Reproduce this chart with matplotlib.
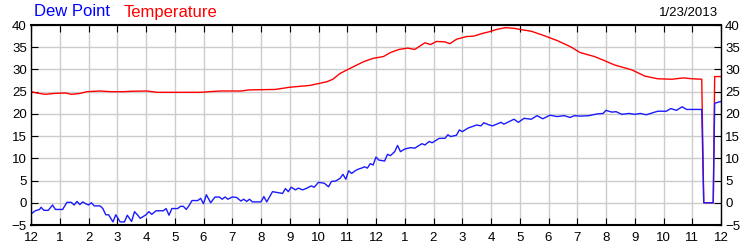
import numpy as np
import matplotlib
matplotlib.use('Agg')
import matplotlib.pyplot as plt

plt.rcParams['font.family'] = ['Liberation Sans', 'DejaVu Sans']

# hours since midnight
dew_hours = [0.0, 0.15, 0.3, 0.35, 0.45, 0.6, 0.75, 0.85, 1.1, 1.25, 1.4, 1.5, 1.6, 1.7, 1.8, 1.9,
             2.0, 2.1, 2.2, 2.4, 2.5, 2.6, 2.7, 2.85, 2.95, 3.1, 3.25, 3.35, 3.5, 3.6, 3.7, 3.8,
             4.0, 4.1, 4.2, 4.35, 4.6, 4.7, 4.8, 4.9, 5.1, 5.2, 5.3, 5.4, 5.5, 5.6, 5.8, 5.9,
             6.0, 6.1, 6.25, 6.4, 6.55, 6.65, 6.75, 6.85, 7.0, 7.15, 7.3, 7.4, 7.5, 7.6, 7.7,
             8.0, 8.1, 8.2, 8.4, 8.75, 8.85, 8.95, 9.05, 9.2, 9.3, 9.45, 9.6, 9.75, 9.85,
             10.0, 10.2, 10.35, 10.45, 10.6, 10.75, 10.85, 10.95, 11.05, 11.15, 11.3, 11.4,
             11.5, 11.6, 11.7, 11.8, 11.9, 12.0, 12.1, 12.3, 12.4, 12.5, 12.65, 12.75, 12.85,
             13.0, 13.2, 13.35, 13.6, 13.7, 13.85, 13.95, 14.2, 14.4, 14.5, 14.6, 14.8, 14.9,
             15.0, 15.2, 15.5, 15.65, 15.75, 15.9, 16.05, 16.35, 16.45, 16.8, 16.95, 17.15,
             17.4, 17.6, 17.8, 18.05, 18.3, 18.55, 18.75, 18.9, 19.1, 19.4, 19.7, 19.9, 20.0,
             20.2, 20.35, 20.55, 20.8, 21.0, 21.2, 21.4, 21.6, 21.8, 22.1, 22.25, 22.45, 22.65,
             22.8, 23.33, 23.4, 23.73, 23.78, 24.0]
dew_point = [-2.5, -1.8, -1.5, -1.0, -1.7, -1.7, -0.5, -1.5, -1.5, 0.1, 0.1, -0.5, 0.3, -0.4, 0.2, -0.2,
             -0.5, 0.0, -0.7, -0.7, -1.3, -2.7, -2.7, -4.3, -2.7, -4.3, -4.3, -2.8, -4.2, -2.0, -2.7, -3.5,
             -2.7, -2.0, -2.6, -1.8, -1.8, -1.3, -2.8, -1.3, -1.3, -0.8, -0.8, -1.5, -0.6, 0.5, 0.5, 1.0,
             -0.2, 1.8, 0.0, 1.3, 1.3, 0.8, 1.3, 0.8, 1.3, 1.2, 0.4, 0.8, 0.3, 0.8, 0.2,
             0.2, 1.4, 0.2, 2.5, 2.1, 3.2, 2.5, 3.5, 2.9, 3.3, 2.9, 3.3, 3.8, 3.5,
             4.6, 4.4, 3.6, 4.8, 4.9, 5.5, 6.4, 5.3, 7.2, 6.6, 7.3, 7.6,
             7.8, 8.1, 7.8, 8.8, 8.5, 10.3, 9.6, 9.4, 10.9, 10.6, 11.5, 12.9, 11.5,
             12.1, 12.4, 12.3, 13.3, 13.0, 13.8, 13.5, 14.5, 14.5, 15.3, 14.9, 15.2, 16.4,
             16.0, 16.8, 17.5, 17.3, 18.0, 17.6, 17.3, 18.1, 17.7, 18.8, 18.1, 19.0,
             18.8, 19.6, 18.9, 19.7, 19.4, 19.6, 19.2, 19.6, 19.5, 19.6, 20.0, 20.1, 20.8,
             20.4, 20.5, 19.9, 20.1, 19.9, 20.1, 19.8, 20.2, 20.6, 20.6, 21.2, 20.8, 21.6,
             21.0, 21.0, 0.0, 0.0, 22.4, 22.8]

temp_hours = [0.0, 0.2, 0.5, 0.8, 1.2, 1.4, 1.7, 1.95, 2.4, 2.75, 3.2, 3.56, 4.03, 4.4, 5.0, 5.9,
              6.2, 6.6, 7.3, 7.6, 8.5, 9.0, 9.7, 10.3, 10.5, 10.75, 11.1, 11.57, 11.9, 12.26,
              12.5, 12.8, 13.1, 13.35, 13.7, 13.9, 14.1, 14.4, 14.57, 14.8, 15.15, 15.4, 15.7,
              15.95, 16.2, 16.5, 16.8, 17.1, 17.4, 17.85, 18.3, 18.77, 19.1, 19.6, 19.94, 20.3,
              20.9, 21.35, 21.8, 22.3, 22.7, 23.0, 23.33, 23.4, 23.73, 23.78, 24.0]
temperature = [25.0, 24.7, 24.4, 24.6, 24.7, 24.4, 24.6, 25.0, 25.15, 25.0, 25.0, 25.1, 25.15, 24.85, 24.85, 24.85,
               25.0, 25.15, 25.15, 25.4, 25.5, 26.0, 26.4, 27.25, 27.8, 29.1, 30.25, 31.75, 32.5, 32.9,
               33.8, 34.5, 34.8, 34.5, 36.0, 35.6, 36.3, 36.2, 35.8, 36.8, 37.4, 37.5, 38.1,
               38.5, 39.0, 39.4, 39.25, 38.9, 38.6, 37.6, 36.5, 35.1, 33.8, 32.9, 32.0, 31.0,
               29.9, 28.5, 27.9, 27.8, 28.1, 27.9, 27.8, 0.0, 0.0, 28.4, 28.4]

hour_labels = ['12'] + [str(h) for h in range(1, 12)] + ['12'] + [str(h) for h in range(1, 12)] + ['12']
y_ticks = list(range(-5, 41, 5))

fig = plt.figure(figsize=(7.5, 2.5), dpi=100)
ax = fig.add_axes([31/750, 0.1, 690/750, 0.8])

ax.plot(temp_hours, temperature, color='#ff0000', lw=1)
ax.plot(dew_hours, dew_point, color='#1a1aff', lw=1)

ax.set_xlim(0, 24)
ax.set_ylim(-5, 40)
ax.set_xticks(range(25))
ax.set_xticklabels(hour_labels)
ax.set_yticks(y_ticks)
ax.grid(True, color='#cccccc', lw=1)
ax.set_axisbelow(True)
ax.tick_params(direction='in', length=5, top=True, right=True, labelright=True,
               labelsize=9.5, pad=3, colors='black')
ax.tick_params(axis='x', pad=5)
for s in ax.spines.values():
    s.set_linewidth(1)
ax.spines['top'].set_linewidth(1.5)
ax.spines['bottom'].set_linewidth(1.5)

fig.text(34/750, 1 - 12/250, 'Dew Point', color='#0000ff', fontsize=12, va='center', ha='left')
fig.text(124/750, 1 - 12/250, 'Temperature', color='#ff0000', fontsize=12, va='center', ha='left')
fig.text(718/750, 1 - 13/250, '1/23/2013', color='black', fontsize=9.5, va='center', ha='right')

fig.savefig('out.png', dpi=100)
